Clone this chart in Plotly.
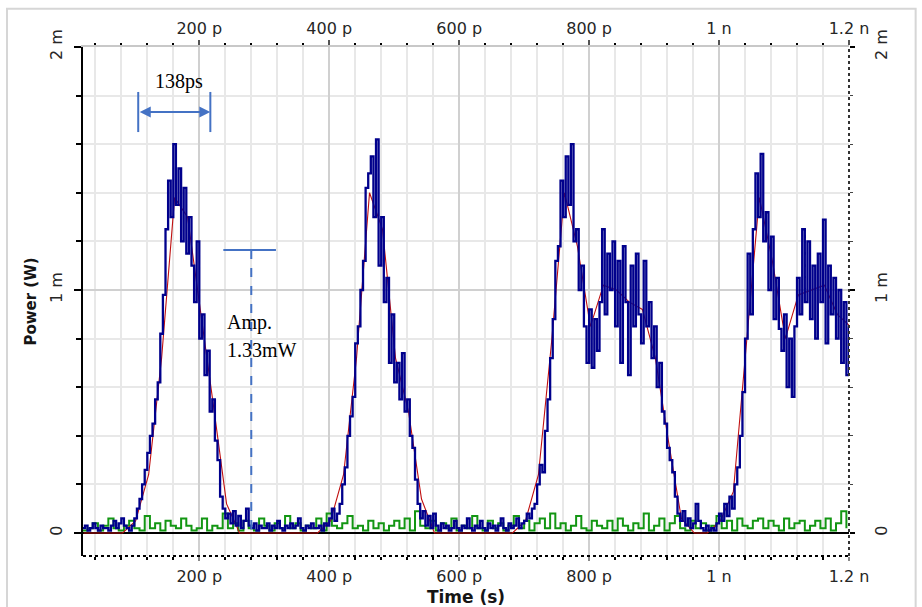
import numpy as np
import plotly.graph_objects as go

# ---------------- data (time in ps, power in mW) ----------------
blue_t0_ps = 20
blue_dt_ps = 4
blue_mw = [
    0.02, 0.03, 0.01, 0.02, 0.04, 0.02, 0.01, 0.03, 0.02, 0.02,   # 20-56
    0.01, 0.03, 0.05, 0.02, 0.04, 0.06, 0.03, 0.02, 0.01, 0.03,   # 60-96
    0.06, 0.10, 0.14, 0.20, 0.26, 0.33, 0.40, 0.45, 0.55, 0.62,   # 100-136
    0.82, 0.98, 1.25, 1.45, 1.30, 1.60, 1.35, 1.50, 1.20, 1.42,   # 140-176
    1.15, 1.30, 1.10, 0.95, 1.20, 0.80, 0.90, 0.65, 0.75, 0.50,   # 180-216
    0.55, 0.38, 0.30, 0.15, 0.10, 0.06, 0.08, 0.04, 0.09, 0.03,   # 220-256
    0.07, 0.02, 0.05, 0.10, 0.03, 0.02, 0.04, 0.01, 0.03, 0.02,   # 260-296
    0.02, 0.04, 0.01, 0.03, 0.02, 0.05, 0.02, 0.01, 0.03, 0.02,   # 300-336
    0.04, 0.02, 0.03, 0.06, 0.02, 0.01, 0.03, 0.02, 0.04, 0.02,   # 340-376
    0.02, 0.03, 0.01, 0.04, 0.03, 0.06, 0.10, 0.05, 0.08, 0.12,   # 380-416
    0.20, 0.27, 0.40, 0.48, 0.56, 0.78, 0.85, 1.00, 1.12, 1.42,   # 420-456
    1.48, 1.55, 1.30, 1.62, 1.10, 1.30, 0.95, 1.05, 0.70, 0.90,   # 460-496
    0.62, 0.70, 0.55, 0.74, 0.50, 0.55, 0.40, 0.35, 0.22, 0.12,   # 500-536
    0.06, 0.09, 0.03, 0.07, 0.02, 0.08, 0.03, 0.01, 0.04, 0.02,   # 540-576
    0.03, 0.01, 0.02, 0.05, 0.02, 0.01, 0.03, 0.02, 0.06, 0.02,   # 580-616
    0.01, 0.03, 0.02, 0.05, 0.02, 0.01, 0.04, 0.02, 0.03, 0.01,   # 620-656
    0.03, 0.06, 0.02, 0.01, 0.04, 0.02, 0.03, 0.06, 0.02, 0.04,   # 660-696
    0.05, 0.08, 0.06, 0.10, 0.12, 0.20, 0.28, 0.25, 0.42, 0.55,   # 700-736
    0.72, 0.88, 1.12, 1.18, 1.45, 1.30, 1.55, 1.35, 1.60, 1.20,   # 740-776
    1.25, 1.00, 1.10, 0.85, 0.70, 0.92, 0.68, 0.88, 0.75, 0.95,   # 780-816
    1.25, 0.90, 1.15, 1.00, 1.20, 0.85, 1.12, 0.70, 1.18, 0.95,   # 820-856
    0.65, 1.10, 0.85, 1.15, 0.90, 0.78, 1.12, 0.85, 0.95, 0.72,   # 860-896
    0.85, 0.60, 0.70, 0.50, 0.45, 0.35, 0.30, 0.25, 0.15, 0.08,   # 900-936
    0.05, 0.09, 0.03, 0.06, 0.02, 0.04, 0.12, 0.05, 0.02, 0.01,   # 940-976
    0.03, 0.01, 0.02, 0.01, 0.04, 0.08, 0.05, 0.12, 0.07, 0.15,   # 980-1016
    0.10, 0.20, 0.27, 0.40, 0.58, 0.80, 1.15, 0.90, 1.25, 1.48,   # 1020-1056
    1.30, 1.56, 1.20, 1.32, 1.00, 1.22, 0.88, 1.05, 0.84, 0.75,   # 1060-1096
    0.90, 0.60, 0.80, 0.56, 0.85, 1.05, 0.90, 1.25, 0.95, 1.20,   # 1100-1136
    0.88, 1.10, 0.80, 1.15, 0.95, 1.29, 0.78, 1.10, 0.90, 1.05,   # 1140-1176
    0.80, 1.00, 0.70, 0.95, 0.65, 0.85,                           # 1180-1200
]

red_t0_ps = 22
red_dt_ps = 20
red_mw = [
    0, 0, 0, 0, 0.05, 0.24, 0.72, 1.38, 1.30, 0.92,
    0.52, 0.12, 0, 0, 0, 0, 0, 0, 0, 0.05,
    0.24, 0.72, 1.40, 1.25, 0.72, 0.50, 0.14, 0, 0, 0,
    0, 0, 0, 0, 0.05, 0.24, 0.78, 1.40, 1.18, 0.85,
    1.02, 1.00, 0.95, 0.92, 0.72, 0.38, 0.06, 0, 0, 0.05,
    0.17, 0.78, 1.38, 1.12, 0.80, 0.98, 1.00, 1.02, 0.90, 0.85,
]

green_t0_ps = 20
green_dt_ps = 8
green_mw = [
    0.01, 0.02, 0.04, 0.01, 0.03, 0.06, 0.02, 0.01, 0.03, 0.05,
    0.02, 0.01, 0.07, 0.02, 0.04, 0.01, 0.05, 0.03, 0.02, 0.06,
    0.03, 0.01, 0.02, 0.06, 0.01, 0.03, 0.02, 0.08, 0.02, 0.04,
    0.01, 0.05, 0.02, 0.01, 0.06, 0.03, 0.01, 0.04, 0.02, 0.07,
    0.02, 0.04, 0.01, 0.03, 0.02, 0.06, 0.01, 0.08, 0.03, 0.02,
    0.04, 0.07, 0.02, 0.03, 0.01, 0.05, 0.02, 0.04, 0.01, 0.03,
    0.05, 0.02, 0.06, 0.01, 0.09, 0.03, 0.02, 0.05, 0.01, 0.04,
    0.02, 0.06, 0.01, 0.03, 0.02, 0.07, 0.02, 0.01, 0.05, 0.02,
    0.04, 0.01, 0.03, 0.07, 0.02, 0.05, 0.01, 0.04, 0.06, 0.02,
    0.08, 0.02, 0.04, 0.01, 0.03, 0.07, 0.02, 0.01, 0.05, 0.03,
    0.02, 0.05, 0.01, 0.06, 0.03, 0.01, 0.04, 0.02, 0.08, 0.01,
    0.03, 0.06, 0.01, 0.04, 0.07, 0.02, 0.01, 0.05, 0.02, 0.04,
    0.01, 0.03, 0.07, 0.02, 0.05, 0.01, 0.06, 0.03, 0.02, 0.05,
    0.06, 0.02, 0.05, 0.03, 0.01, 0.06, 0.02, 0.04, 0.05, 0.01,
    0.03, 0.05, 0.02, 0.06, 0.01, 0.04, 0.09, 0.02,
]

x_tickvals_ps = [200, 400, 600, 800, 1000, 1200]
x_ticktext = ["200 p", "400 p", "600 p", "800 p", "1 n", "1.2 n"]
y_tickvals_mw = [0, 1, 2]
y_ticktext = ["0", "1 m", "2 m"]

x_range_ps = [21, 1200]
y_range_mw = [-0.0946, 2.0]

t_blue = blue_t0_ps + blue_dt_ps * np.arange(len(blue_mw))
t_red = red_t0_ps + red_dt_ps * np.arange(len(red_mw))
t_green = green_t0_ps + green_dt_ps * np.arange(len(green_mw))

ANN = "#4472C4"
SERIF = "Liberation Serif, Times New Roman, serif"

fig = go.Figure()
fig.add_trace(go.Scatter(x=t_green, y=green_mw, mode="lines", line_shape="hv",
                         line=dict(color="#139613", width=2), hoverinfo="skip"))
fig.add_trace(go.Scatter(x=t_red, y=red_mw, mode="lines",
                         line=dict(color="#c01010", width=1.1), hoverinfo="skip"))
fig.add_trace(go.Scatter(x=t_blue, y=blue_mw, mode="lines", line_shape="hv",
                         line=dict(color="#00008c", width=2.3), hoverinfo="skip"))
# dummy trace so the mirrored top/right axes are drawn
fig.add_trace(go.Scatter(x=[], y=[], xaxis="x2", yaxis="y2", hoverinfo="skip"))

tickfont = dict(family="DejaVu Sans", size=16, color="#262626")

fig.update_layout(
    width=922, height=607,
    margin=dict(l=83, r=73, t=47, b=51, autoexpand=False),
    paper_bgcolor="white", plot_bgcolor="white",
    showlegend=False,
    font=dict(family="DejaVu Sans", size=16, color="#222"),
    xaxis=dict(
        range=x_range_ps, tickvals=x_tickvals_ps, ticktext=x_ticktext, automargin=False,
        tickfont=tickfont, ticks="outside", ticklen=4, tickcolor="#888", tickwidth=2,
        showgrid=True, gridcolor="#d0d0d0", gridwidth=2,
        minor=dict(dtick=40, tick0=0, showgrid=True, gridcolor="#e8e8e8", gridwidth=2,
                   ticks="outside", ticklen=3, tickcolor="black", tickwidth=2),
        showline=False, zeroline=False, ticklabelstandoff=2,
        title=dict(text="<b>Time (s)</b>", standoff=12,
                   font=dict(family="DejaVu Sans", size=17, color="#151515")),
    ),
    xaxis2=dict(
        range=x_range_ps, overlaying="x", side="top", anchor="y", automargin=False,
        tickvals=x_tickvals_ps, ticktext=x_ticktext, tickfont=tickfont,
        ticks="outside", ticklen=5, tickcolor="#555", tickwidth=2,
        minor=dict(dtick=40, tick0=0, ticks="outside", ticklen=2, tickcolor="black", tickwidth=2,
                   showgrid=False),
        showgrid=False, zeroline=False, showline=True, linecolor="#c8c8c8", linewidth=1.5,
        ticklabelstandoff=0,
    ),
    yaxis=dict(
        range=y_range_mw, tickvals=y_tickvals_mw, ticktext=y_ticktext, tickangle=-90,
        automargin=False,
        tickfont=tickfont, ticks="outside", ticklen=7, tickcolor="black", tickwidth=2,
        showgrid=True, gridcolor="#d0d0d0", gridwidth=2,
        minor=dict(dtick=0.2, tick0=0, showgrid=True, gridcolor="#e8e8e8", gridwidth=2,
                   ticks="outside", ticklen=5, tickcolor="black", tickwidth=2),
        showline=True, linecolor="black", linewidth=2,
        zeroline=True, zerolinecolor="black", zerolinewidth=1.5,
        ticklabelstandoff=6,
        title=dict(text="<b>Power (W)</b>", standoff=6,
                   font=dict(family="DejaVu Sans", size=15, color="#151515")),
    ),
    yaxis2=dict(
        range=y_range_mw, overlaying="y", side="right", anchor="x", automargin=False,
        tickvals=y_tickvals_mw, ticktext=y_ticktext, tickangle=-90, tickfont=tickfont,
        ticks="outside", ticklen=5, tickcolor="black", tickwidth=2,
        minor=dict(dtick=0.2, tick0=0, ticks="outside", ticklen=3, tickcolor="#444", tickwidth=1,
                   showgrid=False),
        showgrid=False, zeroline=False, showline=False, ticklabelstandoff=13,
    ),
)

# frame / axis decorations
fig.add_shape(type="rect", xref="paper", yref="paper", x0=-0.0992, x1=1.087, y0=-0.2, y1=1.075,
              line=dict(color="#d6d6d6", width=2), layer="below")
fig.add_shape(type="line", xref="paper", yref="paper", x0=0, x1=1, y0=0, y1=0,
              line=dict(color="black", width=2, dash="dot"))
fig.add_shape(type="line", xref="paper", yref="paper", x0=1, x1=1, y0=0, y1=1,
              line=dict(color="#333", width=2, dash="dot"))

# 138ps width marker
for tx in (106, 217):
    fig.add_shape(type="line", xref="x", yref="y", x0=tx, x1=tx, y0=1.65, y1=1.815,
                  line=dict(color=ANN, width=2))
fig.add_annotation(x=217, y=1.733, ax=106, ay=1.733, xref="x", yref="y", axref="x", ayref="y",
                   text="", showarrow=True, arrowhead=2, arrowside="end+start",
                   arrowsize=1.1, arrowwidth=2, arrowcolor=ANN, standoff=0, startstandoff=0)
fig.add_annotation(x=168, y=1.856, xref="x", yref="y", text="138ps", showarrow=False,
                   font=dict(family=SERIF, size=20, color="black"))

# amplitude marker
fig.add_shape(type="line", xref="x", yref="y", x0=237, x1=318, y0=1.165, y1=1.165,
              line=dict(color=ANN, width=2))
fig.add_shape(type="line", xref="x", yref="y", x0=280, x1=280, y0=1.165, y1=0,
              line=dict(color=ANN, width=2, dash="dash"))
fig.add_annotation(x=240, y=0.868, xref="x", yref="y", text="Amp.", showarrow=False,
                   xanchor="left",
                   font=dict(family=SERIF, size=20, color="black"))
fig.add_annotation(x=240, y=0.753, xref="x", yref="y", text="1.33mW", showarrow=False,
                   xanchor="left",
                   font=dict(family=SERIF, size=20, color="black"))

fig.write_html("out.html")
